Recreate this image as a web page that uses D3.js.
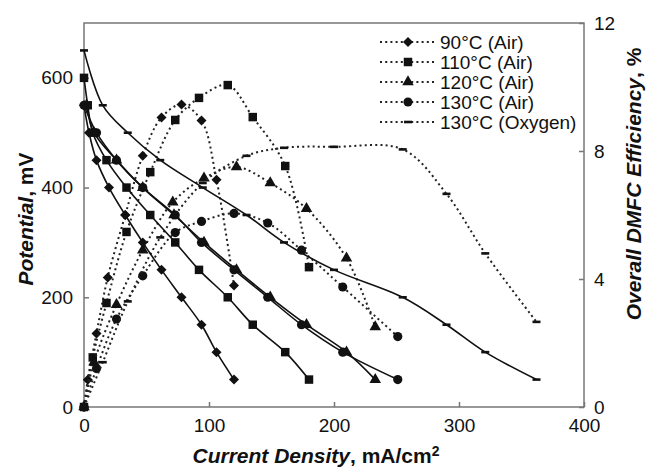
<!DOCTYPE html>
<html lang="en">
<head>
<meta charset="UTF-8">
<title>DMFC polarization and efficiency</title>
<script src="https://cdn.jsdelivr.net/npm/d3@7"></script>
<style>
    body { margin: 0; background: #fff; }
    text {
        font-family: "Liberation Sans", Arial, Helvetica, sans-serif;
        fill: #111;
    }
    .frame { fill: none; stroke: #777; stroke-width: 1.5; }
    .tick line { stroke: #777; stroke-width: 1.5; }
    .tick text { font-size: 19px; }
    .pol { fill: none; stroke: #111; stroke-width: 1.6; }
    .eff { fill: none; stroke: #222; stroke-width: 2; stroke-dasharray: 2, 3.2; }
    .mark { fill: #111; stroke: none; }
    .legend text { font-size: 19px; }
    .title { font-size: 21px; font-weight: bold; }
</style>
</head>
<body>
<svg width="647" height="470"></svg>

<script>
    // series names and marker type
    const seriesNames = ["90°C (Air)", "110°C (Air)", "120°C (Air)", "130°C (Air)", "130°C (Oxygen)"];
    const seriesMarks = ["diamond", "square", "triangle", "circle", "dash"];

    // polarization curves: current density (mA/cm2) vs potential (mV)
    const polI90  = [0, 4, 10, 20, 33, 47, 62, 78, 94, 106, 120];
    const polV90  = [550, 500, 450, 400, 350, 300, 250, 200, 150, 100, 50];
    const polI110 = [0, 3, 7, 18, 34, 53, 73, 92, 115, 135, 161, 180];
    const polV110 = [600, 550, 500, 450, 400, 350, 300, 250, 200, 150, 100, 50];
    const polI120 = [2, 8, 26, 47, 72, 96, 122, 149, 178, 210, 233];
    const polV120 = [550, 500, 450, 400, 350, 300, 250, 200, 150, 100, 50];
    const polI130 = [0, 10, 26, 47, 73, 94, 120, 147, 174, 207, 251];
    const polV130 = [550, 500, 450, 400, 350, 300, 250, 200, 150, 100, 50];
    const polIO2  = [0, 15, 35, 61, 95, 130, 160, 200, 255, 290, 321, 362];
    const polVO2  = [650, 550, 500, 450, 400, 350, 300, 250, 200, 150, 100, 50];

    // efficiency curves: current density vs overall efficiency (%)
    const effI90  = [0, 3, 10, 19, 33, 47, 62, 78, 94, 106, 120];
    const effE90  = [0, 0.85, 2.3, 4.05, 6.0, 7.85, 9.05, 9.45, 8.95, 7.1, 3.8];
    const effI110 = [0, 7, 18, 34, 53, 73, 92, 115, 135, 161, 180];
    const effE110 = [0, 1.55, 3.25, 5.47, 7.34, 8.97, 9.66, 10.06, 9.06, 7.53, 4.37];
    const effI120 = [0, 8, 26, 47, 71, 96, 122, 149, 178, 210, 233];
    const effE120 = [0, 1.4, 3.2, 4.9, 6.4, 7.15, 7.5, 7.0, 6.2, 4.65, 2.5];
    const effI130 = [0, 10, 26, 47, 73, 94, 120, 147, 174, 207, 251];
    const effE130 = [0, 1.2, 2.75, 4.1, 5.45, 5.8, 6.05, 5.75, 4.9, 3.75, 2.2];
    const effIO2  = [0, 15, 35, 61, 95, 130, 160, 200, 255, 290, 321, 362];
    const effEO2  = [0, 1.4, 3.3, 5.3, 7.0, 7.85, 8.1, 8.13, 8.05, 6.66, 4.8, 2.66];

    const xTicks  = [0, 100, 200, 300, 400];
    const yLTicks = [0, 200, 400, 600];
    const yRTicks = [0, 4, 8, 12];

    const polData = [[polI90, polV90], [polI110, polV110], [polI120, polV120], [polI130, polV130], [polIO2, polVO2]];
    const effData = [[effI90, effE90], [effI110, effE110], [effI120, effE120], [effI130, effE130], [effIO2, effEO2]];

    const svg = d3.select("svg");
    const plotLeft = 84, plotRight = 584, plotTop = 23, plotBottom = 407;

    const x  = d3.scaleLinear().domain([0, 400]).range([plotLeft, plotRight]);
    const yL = d3.scaleLinear().domain([0, 700]).range([plotBottom, plotTop]);
    const yR = d3.scaleLinear().domain([0, 12]).range([plotBottom, plotTop]);

    // frame
    svg.append("rect").attr("class", "frame")
       .attr("x", plotLeft).attr("y", plotTop)
       .attr("width", plotRight - plotLeft).attr("height", plotBottom - plotTop);

    // axes, ticks pointing inward
    svg.append("g").attr("transform", `translate(0,${plotBottom})`)
       .call(d3.axisBottom(x).tickValues(xTicks).tickSizeInner(-5).tickSizeOuter(0).tickPadding(12))
       .call(g => g.select(".domain").remove())
       .call(g => g.selectAll("text").attr("font-family", null).attr("font-size", null));

    svg.append("g").attr("transform", `translate(${plotLeft},0)`)
       .call(d3.axisLeft(yL).tickValues(yLTicks).tickSizeInner(-5).tickSizeOuter(0).tickPadding(11))
       .call(g => g.select(".domain").remove())
       .call(g => g.selectAll("text").attr("font-family", null).attr("font-size", null));

    svg.append("g").attr("transform", `translate(${plotRight},0)`)
       .call(d3.axisRight(yR).tickValues(yRTicks).tickSizeInner(-5).tickSizeOuter(0).tickPadding(10))
       .call(g => g.select(".domain").remove())
       .call(g => g.selectAll("text").attr("font-family", null).attr("font-size", null));

    // markers
    function drawMark(g, type, cx, cy) {
        if (type === "dash") {
            g.append("rect").attr("class", "mark")
             .attr("x", cx - 4).attr("y", cy - 1.3).attr("width", 8).attr("height", 2.6);
            return;
        }
        let sym, size, rot = 0;
        if (type === "diamond") { sym = d3.symbolSquare; size = 50; rot = 45; }
        if (type === "square")  { sym = d3.symbolSquare; size = 72; }
        if (type === "triangle"){ sym = d3.symbolTriangle; size = 58; }
        if (type === "circle")  { sym = d3.symbolCircle; size = 66; }
        g.append("path").attr("class", "mark")
         .attr("d", d3.symbol(sym, size)())
         .attr("transform", `translate(${cx},${cy}) rotate(${rot})`);
    }

    const toPoints = ([xs, ys]) => xs.map((v, i) => [v, ys[i]]);
    const curve = d3.curveCatmullRom.alpha(0.5);
    const polLine = d3.line().x(d => x(d[0])).y(d => yL(d[1])).curve(curve);
    const effLine = d3.line().x(d => x(d[0])).y(d => yR(d[1])).curve(curve);

    const plot = svg.append("g");

    // efficiency (dotted) first, then polarization (solid)
    effData.forEach((s, k) => {
        const pts = toPoints(s);
        plot.append("path").attr("class", "eff").attr("d", effLine(pts));
        pts.forEach(d => drawMark(plot, seriesMarks[k], x(d[0]), yR(d[1])));
    });
    polData.forEach((s, k) => {
        const pts = toPoints(s);
        plot.append("path").attr("class", "pol").attr("d", polLine(pts));
        pts.forEach(d => drawMark(plot, seriesMarks[k], x(d[0]), yL(d[1])));
    });

    // legend
    const legend = svg.append("g").attr("class", "legend");
    seriesNames.forEach((name, k) => {
        const ly = 42 + k * 20;
        legend.append("line").attr("class", "eff")
              .attr("x1", 380).attr("x2", 435).attr("y1", ly).attr("y2", ly);
        drawMark(legend, seriesMarks[k], 408, ly);
        legend.append("text").attr("x", 440).attr("y", ly + 7).text(name);
    });

    // axis titles
    const xt = svg.append("text").attr("class", "title")
                  .attr("x", 316).attr("y", 463).attr("text-anchor", "middle")
                  .attr("font-size", 20);
    xt.append("tspan").attr("font-style", "italic").text("Current Density");
    xt.append("tspan").text(", mA/cm");
    xt.append("tspan").attr("dy", -7).attr("font-size", 14).text("2");

    const yt = svg.append("text").attr("class", "title")
                  .attr("transform", "translate(33,219) rotate(-90)").attr("text-anchor", "middle");
    yt.append("tspan").attr("font-style", "italic").text("Potential");
    yt.append("tspan").text(", mV");

    const rt = svg.append("text").attr("class", "title")
                  .attr("transform", "translate(641,184) rotate(-90)").attr("text-anchor", "middle")
                  .attr("font-size", 22);
    rt.append("tspan").attr("font-style", "italic").text("Overall DMFC Efficiency");
    rt.append("tspan").text(", %");
</script>
</body>
</html>
